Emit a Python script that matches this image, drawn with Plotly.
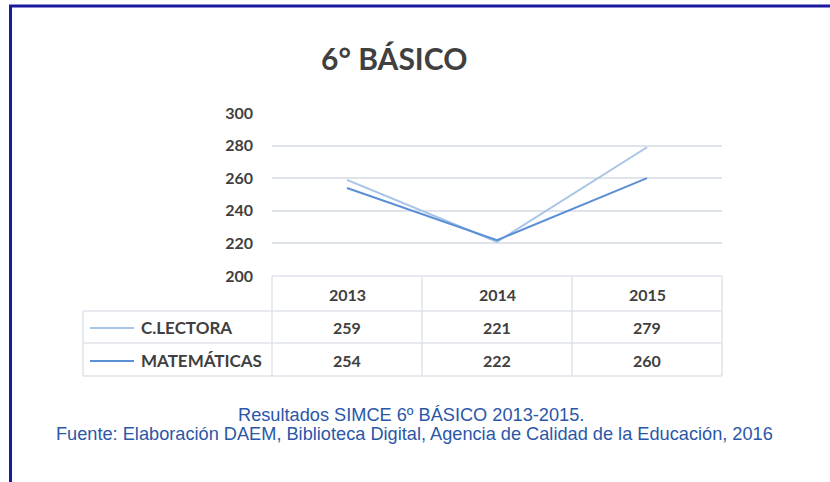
import plotly.graph_objects as go

years = ["2013", "2014", "2015"]
series_names = ["C.LECTORA", "MATEMÁTICAS"]
lectora = [259, 221, 279]
matematicas = [254, 222, 260]
y_ticks = [200, 220, 240, 260, 280, 300]

colors = ["#a7c3e6", "#5b8fd5"]
text_col = "#404040"
grid_col = "#dfe3ea"

W, H = 830, 482
L, R, T, B = 272, 722, 113, 276


def py(y):
    return (B - y) / (B - T)


def px(x):
    return (x - L) / (R - L)


fig = go.Figure()
for name, vals, c in zip(series_names, [lectora, matematicas], colors):
    fig.add_trace(go.Scatter(x=years, y=vals, mode="lines", name=name,
                             line=dict(color=c, width=2), showlegend=False))

shapes = []
# page border
shapes.append(dict(type="line", xref="paper", yref="paper", x0=px(9), x1=px(830), y0=py(6), y1=py(6),
                   line=dict(color="#1a1aa0", width=3)))
shapes.append(dict(type="line", xref="paper", yref="paper", x0=px(10.5), x1=px(10.5), y0=py(5), y1=py(482),
                   line=dict(color="#1a1aa0", width=3)))
# table lines
for yl, x0 in [(276, 272), (311, 83), (343, 83), (376, 83)]:
    shapes.append(dict(type="line", xref="paper", yref="paper", x0=px(x0), x1=px(722), y0=py(yl), y1=py(yl),
                       line=dict(color=grid_col, width=1.5)))
for xl, y0 in [(83, 311), (272, 276), (422, 276), (572, 276), (722, 276)]:
    shapes.append(dict(type="line", xref="paper", yref="paper", x0=px(xl), x1=px(xl), y0=py(y0), y1=py(376),
                       line=dict(color=grid_col, width=1.5)))
# legend keys in table
for yk, c in zip([328, 361], colors):
    shapes.append(dict(type="line", xref="paper", yref="paper", x0=px(90), x1=px(134), y0=py(yk), y1=py(yk),
                       line=dict(color=c, width=2)))

ann = []
fam = "Lato, Open Sans, sans-serif"
fntb = dict(family=fam, size=16, color=text_col, weight="bold")
fntl = dict(family=fam, size=17, color=text_col, weight="bold")
for i, yr in enumerate(years):
    ann.append(dict(x=i, y=py(294), xref="x", yref="paper", text=yr, showarrow=False, font=fntb,
                    xanchor="center", yanchor="middle"))
for row_y, name, vals in [(327, series_names[0], lectora), (360, series_names[1], matematicas)]:
    ann.append(dict(x=px(139), y=py(row_y), xref="paper", yref="paper", text=name, showarrow=False,
                    xanchor="left", yanchor="middle", font=fntl))
    for i, v in enumerate(vals):
        ann.append(dict(x=i, y=py(row_y), xref="x", yref="paper", text=str(v), showarrow=False, font=fntb,
                        xanchor="center", yanchor="middle"))

ann.append(dict(x=px(394), y=py(58), xref="paper", yref="paper", text="6° BÁSICO", showarrow=False,
                xanchor="center", yanchor="middle",
                font=dict(family=fam, size=30, color=text_col, weight="bold")))
foot = dict(family="Liberation Sans, Arial, sans-serif", size=18.2, color="#2b57a8")
ann.append(dict(x=px(411), y=py(415), xref="paper", yref="paper", xanchor="center", yanchor="middle",
                text="Resultados SIMCE 6º BÁSICO 2013-2015.", showarrow=False, font=foot))
ann.append(dict(x=px(414), y=py(434), xref="paper", yref="paper", xanchor="center", yanchor="middle",
                text="Fuente: Elaboración DAEM, Biblioteca Digital, Agencia de Calidad de la Educación, 2016",
                showarrow=False, font=foot))

fig.update_layout(
    width=W, height=H,
    margin=dict(l=L, r=W - R, t=T, b=H - B, pad=0),
    paper_bgcolor="white", plot_bgcolor="white",
    xaxis=dict(type="category", range=[-0.5, 2.5], showgrid=False, showticklabels=False,
               zeroline=False, showline=False, fixedrange=True),
    yaxis=dict(range=[200, 300], tickvals=y_ticks, showgrid=True, gridcolor=grid_col, gridwidth=1.5,
               zeroline=False, showline=False, ticklabelstandoff=18,
               tickfont=dict(family=fam, size=16, color=text_col, weight="bold")),
    shapes=shapes, annotations=ann,
)

fig.write_html("out.html", config={"displayModeBar": False},
               post_script="document.body.style.margin='0';")
